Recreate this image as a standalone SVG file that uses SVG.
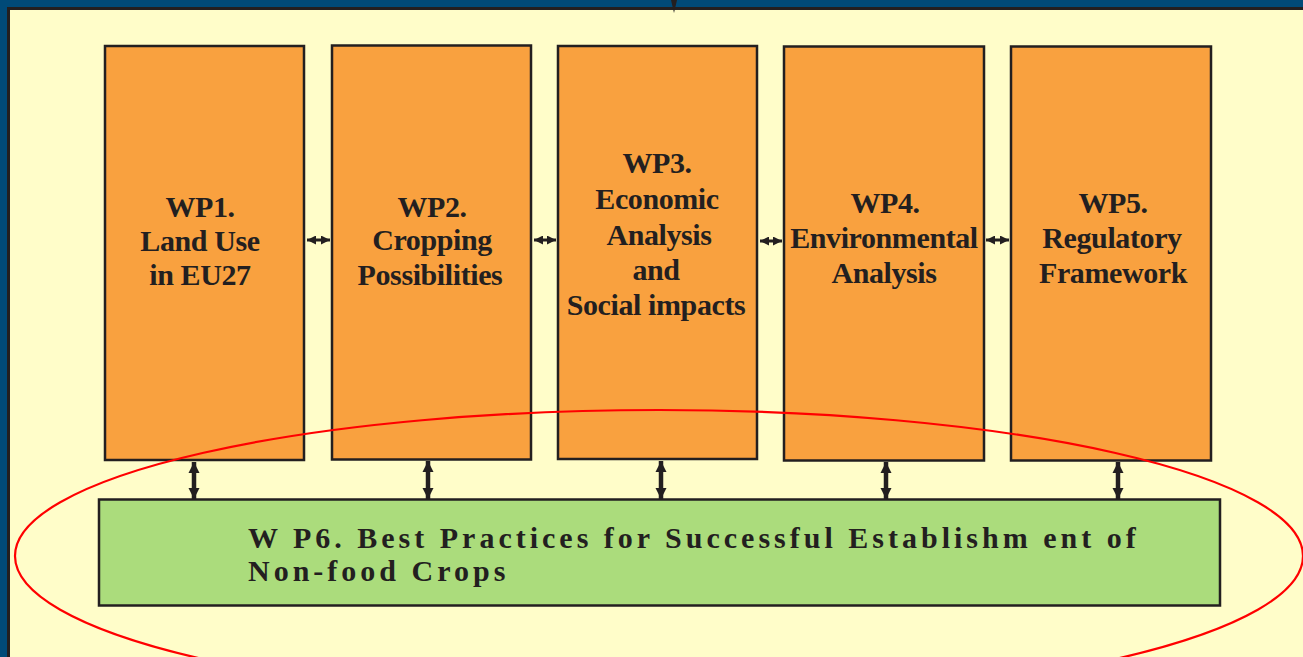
<svg xmlns="http://www.w3.org/2000/svg" width="1303" height="657" viewBox="0 0 1303 657">
<style>
.wp{fill:#F9A13F;stroke:#231F20;stroke-width:2.5}
.t{font-family:"Liberation Serif","Times New Roman",serif;font-weight:bold;font-size:30px;fill:#231F20;text-anchor:middle;letter-spacing:-0.4px}
.t6{font-family:"Liberation Serif","Times New Roman",serif;font-weight:bold;font-size:30px;fill:#231F20;letter-spacing:4px}
.c{stroke:#231F20;stroke-width:4.5;fill:none}
.ch{stroke:#231F20;stroke-width:3;fill:none}
</style>
<defs>
<marker id="ah" viewBox="0 0 10 10" refX="10" refY="5" markerWidth="2.5" markerHeight="2.5" orient="auto-start-reverse" markerUnits="strokeWidth">
<path d="M0,0 L10,5 L0,10 z" fill="#231F20"/>
</marker>
<marker id="ahs" viewBox="0 0 10 10" refX="10" refY="5" markerWidth="3" markerHeight="3" orient="auto-start-reverse" markerUnits="strokeWidth">
<path d="M0,0 L10,5 L0,10 z" fill="#231F20"/>
</marker>
</defs>
<rect x="0" y="0" width="1303" height="657" fill="#004A78"/>
<rect x="8.5" y="8.5" width="1300" height="660" fill="#FFFDC9" stroke="#231F20" stroke-width="3"/>
<g id="wp1"><rect class="wp" x="105" y="46" width="199" height="414"/>
<text class="t"><tspan x="200" y="217">WP1.</tspan><tspan x="200" y="251">Land Use</tspan><tspan x="200" y="285">in EU27</tspan></text></g>
<g id="wp2"><rect class="wp" x="332" y="45.5" width="199" height="414"/>
<text class="t"><tspan x="432" y="217">WP2.</tspan><tspan x="432" y="250">Cropping</tspan><tspan x="430" y="285">Possibilities</tspan></text></g>
<g id="wp3"><rect class="wp" x="558" y="46" width="199" height="413"/>
<text class="t"><tspan x="657" y="173">WP3.</tspan><tspan x="657" y="209">Economic</tspan><tspan x="659" y="245">Analysis</tspan><tspan x="656" y="280">and</tspan><tspan x="656" y="315">Social impacts</tspan></text></g>
<g id="wp4"><rect class="wp" x="784" y="46.5" width="200" height="414"/>
<text class="t"><tspan x="885" y="213">WP4.</tspan><tspan x="884" y="248">Environmental</tspan><tspan x="884" y="283">Analysis</tspan></text></g>
<g id="wp5"><rect class="wp" x="1011" y="46.5" width="200" height="414"/>
<text class="t"><tspan x="1113" y="213">WP5.</tspan><tspan x="1112" y="248">Regulatory</tspan><tspan x="1113" y="283">Framework</tspan></text></g>
<g id="wp6"><rect x="99" y="499.5" width="1121" height="106" fill="#ABDC7C" stroke="#231F20" stroke-width="2.5"/>
<text class="t6"><tspan x="248" y="548">W P6. Best Practices for Successful Establishm ent of</tspan><tspan x="248" y="581">Non-food Crops</tspan></text></g>
<g id="connectors">
<line class="ch" x1="307" y1="240" x2="330" y2="240" marker-start="url(#ahs)" marker-end="url(#ahs)"/>
<line class="ch" x1="534" y1="240" x2="556" y2="240" marker-start="url(#ahs)" marker-end="url(#ahs)"/>
<line class="ch" x1="760" y1="241" x2="782" y2="241" marker-start="url(#ahs)" marker-end="url(#ahs)"/>
<line class="ch" x1="986" y1="240" x2="1009" y2="240" marker-start="url(#ahs)" marker-end="url(#ahs)"/>
<line class="c" x1="194" y1="462" x2="194" y2="499" marker-start="url(#ah)" marker-end="url(#ah)"/>
<line class="c" x1="428" y1="461" x2="428" y2="499" marker-start="url(#ah)" marker-end="url(#ah)"/>
<line class="c" x1="661" y1="461" x2="661" y2="499" marker-start="url(#ah)" marker-end="url(#ah)"/>
<line class="c" x1="886" y1="462" x2="886" y2="499" marker-start="url(#ah)" marker-end="url(#ah)"/>
<line class="c" x1="1118" y1="462" x2="1118" y2="499" marker-start="url(#ah)" marker-end="url(#ah)"/>
<path d="M671,0 L677,0 L674,13 z" fill="#231F20"/>
</g>
<ellipse cx="659" cy="556" rx="644" ry="146" fill="none" stroke="#FF0000" stroke-width="2.2"/>
</svg>
